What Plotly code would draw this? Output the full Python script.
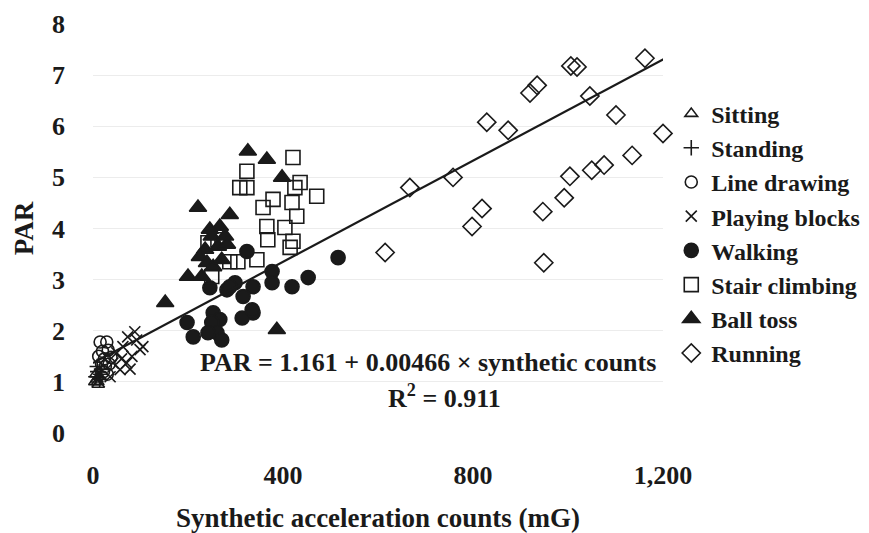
import plotly.graph_objects as go

# ---- data ----
sitting_x = [4, 8, 11, 14, 6, 10]
sitting_y = [1.0, 1.05, 0.95, 1.1, 1.15, 1.0]

standing_x = [6, 10, 14, 18, 9, 16]
standing_y = [1.1, 1.2, 1.05, 1.25, 1.3, 1.15]

line_x = [15, 29, 20, 32, 24, 12, 38, 26, 18, 34, 22, 30]
line_y = [1.78, 1.78, 1.6, 1.62, 1.45, 1.5, 1.48, 1.3, 1.35, 1.35, 1.2, 1.15]

blocks_x = [36, 57, 71, 82, 99, 92, 88, 50, 63, 73, 42, 105, 78, 60]
blocks_y = [1.1, 1.24, 1.37, 1.5, 1.63, 1.82, 1.98, 1.57, 1.69, 1.88, 1.37, 1.69, 1.25, 1.45]

walk_x = [516, 324, 377, 377, 453, 419, 337, 299, 282, 246, 316, 337, 314, 253,
          267, 250, 198, 211, 261, 271, 242, 335, 288]
walk_y = [3.43, 3.55, 3.16, 2.94, 3.04, 2.86, 2.86, 2.94, 2.8, 2.84, 2.67, 2.35, 2.25, 2.35,
          2.22, 2.16, 2.16, 1.88, 1.96, 1.82, 1.96, 2.41, 2.86]

stair_x = [421, 324, 309, 324, 436, 425, 471, 379, 358, 419, 429, 366, 404, 368,
           421, 415, 345, 288, 305, 250, 263, 242]
stair_y = [5.39, 5.12, 4.8, 4.8, 4.9, 4.8, 4.63, 4.57, 4.41, 4.51, 4.24, 4.04, 4.02, 3.78,
           3.75, 3.63, 3.39, 3.35, 3.35, 3.06, 3.78, 3.72]

ball_x = [326, 366, 398, 221, 288, 267, 250, 278, 236, 263, 225, 240, 253, 200,
          229, 152, 387, 282, 246, 271]
ball_y = [5.51, 5.35, 5.0, 4.41, 4.27, 4.04, 3.85, 3.85, 3.59, 3.65, 3.45, 3.33, 3.25, 3.06,
          3.06, 2.55, 2.02, 3.69, 3.98, 3.39]

run_x = [1162, 1006, 1019, 1046, 1101, 1200, 1135, 1076, 1050, 1004, 992, 935, 920,
         874, 829, 758, 667, 819, 798, 615, 947, 949]
run_y = [7.33, 7.18, 7.16, 6.59, 6.22, 5.86, 5.43, 5.24, 5.14, 5.02, 4.6, 6.8, 6.65,
         5.92, 6.08, 5.0, 4.8, 4.39, 4.04, 3.53, 4.33, 3.33]

fit_x = [0, 1205]
fit_y = [1.37, 7.33]

x_ticks = [0, 400, 800, 1200]
x_tick_labels = ["0", "400", "800", "1,200"]
y_ticks = [0, 1, 2, 3, 4, 5, 6, 7, 8]

FONT = "Liberation Serif"
INK = "#1a1a1a"

series = [
    ("Sitting", sitting_x, sitting_y, "triangle-up-open", 11),
    ("Standing", standing_x, standing_y, "cross-thin-open", 11),
    ("Line drawing", line_x, line_y, "circle-open", 12),
    ("Playing blocks", blocks_x, blocks_y, "x-thin-open", 11),
    ("Walking", walk_x, walk_y, "circle", 14),
    ("Stair climbing", stair_x, stair_y, "square-open", 14),
    ("Ball toss", ball_x, ball_y, "triangle-up", 15),
    ("Running", run_x, run_y, "diamond-open", 14),
]

fig = go.Figure()
for name, xs, ys, sym, size in series:
    fig.add_trace(go.Scatter(
        x=xs, y=ys, mode="markers", name=name, cliponaxis=False,
        marker=dict(symbol=sym, size=size, color=INK,
                    line=dict(color=INK, width=1.6)),
    ))

fig.add_trace(go.Scatter(
    x=fit_x, y=fit_y, mode="lines", showlegend=False, cliponaxis=False,
    line=dict(color=INK, width=2.2),
))

fig.add_annotation(x=705, y=1.37, xref="x", yref="y", showarrow=False,
                   text="PAR = 1.161 + 0.00466 × synthetic counts",
                   font=dict(family=FONT, size=26, color=INK, weight=700))
fig.add_annotation(x=741, y=0.72, xref="x", yref="y", showarrow=False,
                   text="R<sup>2</sup> = 0.911",
                   font=dict(family=FONT, size=26, color=INK, weight=700))

fig.update_layout(
    width=861, height=525,
    margin=dict(l=85, r=206, t=16, b=100, autoexpand=False),
    paper_bgcolor="white", plot_bgcolor="white",
    font=dict(family=FONT, size=26, color=INK, weight=700),
    legend=dict(x=1.0145, y=0.835, xanchor="left", yanchor="top",
                font=dict(family=FONT, size=24, color=INK, weight=700),
                itemwidth=30, tracegroupgap=0, bgcolor="rgba(0,0,0,0)"),
    xaxis=dict(range=[0, 1200], tickvals=x_ticks, ticktext=x_tick_labels,
               showgrid=False, zeroline=False, showline=False, automargin=False,
               ticklabelstandoff=24,
               tickfont=dict(family=FONT, size=26, color=INK, weight=700),
               title=dict(text="Synthetic acceleration counts (mG)", standoff=29,
                          font=dict(family=FONT, size=27, color=INK, weight=700))),
    yaxis=dict(range=[0, 8], tickvals=y_ticks, automargin=False,
               showgrid=True, gridcolor="#ececec", gridwidth=1,
               zeroline=False, showline=False, ticklabelstandoff=27,
               tickfont=dict(family=FONT, size=26, color=INK, weight=700),
               title=dict(text="PAR", standoff=10,
                          font=dict(family=FONT, size=27, color=INK, weight=700))),
)

fig.write_html("out.html")
